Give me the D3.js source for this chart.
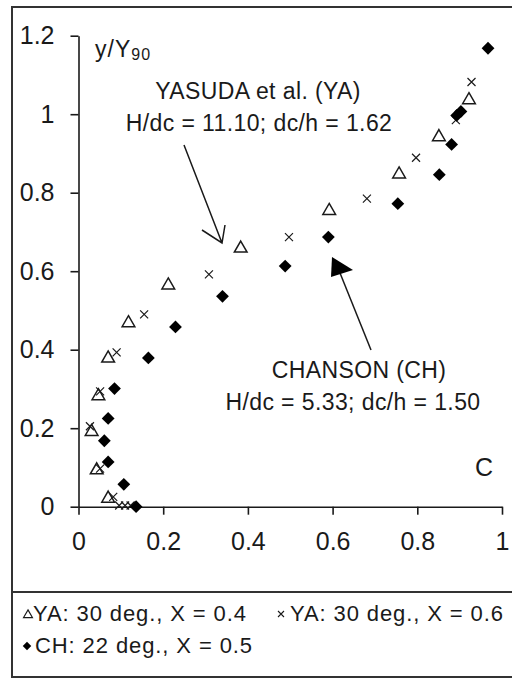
<!DOCTYPE html>
<html><head><meta charset="utf-8">
<script src="https://cdn.jsdelivr.net/npm/d3@7"></script>
<style>
html,body{margin:0;padding:0;background:#fff;}
svg{display:block;font-family:"Liberation Sans",Arial,sans-serif;}
</style></head><body>
<svg id="chart" width="512" height="680"></svg>
<script>
// Velocity distribution y/Y90 : YA (X = 0.4, X = 0.6) and CH (X = 0.5)
const yaX04_x = [0.070,0.043,0.031,0.047,0.070,0.118,0.212,0.383,0.592,0.757,0.851,0.922];
const yaX04_y = [0.021,0.093,0.191,0.282,0.378,0.468,0.564,0.658,0.754,0.847,0.942,1.036];

const yaX06_x = [0.123,0.110,0.096,0.082,0.051,0.027,0.051,0.090,0.155,0.308,0.497,0.681,0.797,0.891,0.928];
const yaX06_y = [0.003,0.003,0.003,0.025,0.097,0.205,0.294,0.393,0.490,0.592,0.687,0.785,0.889,0.985,1.082];

const ch_x = [0.136,0.107,0.070,0.061,0.070,0.085,0.165,0.229,0.340,0.488,0.590,0.754,0.852,0.881,0.893,0.903,0.967];
const ch_y = [0.000,0.057,0.114,0.168,0.225,0.301,0.379,0.458,0.536,0.613,0.687,0.772,0.846,0.923,0.997,1.007,1.168];

const xTicks = [0,0.2,0.4,0.6,0.8,1];
const yTicks = [0,0.2,0.4,0.6,0.8,1,1.2];
const legendLabels = ["YA: 30 deg., X = 0.4","YA: 30 deg., X = 0.6","CH: 22 deg., X = 0.5"];

const svg = d3.select("#chart");
const ink = "#1a1a1a";

const x = d3.scaleLinear().domain([0,1]).range([78.5,502]);
const y = d3.scaleLinear().domain([0,1.2]).range([506.7,35.7]);

// outer frame and legend divider
svg.append("rect").attr("x",12).attr("y",7).attr("width",520).attr("height",670)
  .attr("fill","none").attr("stroke","#333").attr("stroke-width",2);
svg.append("line").attr("x1",12).attr("x2",520).attr("y1",592).attr("y2",592)
  .attr("stroke","#333").attr("stroke-width",2);

const fmt = d => d === 0 ? "0" : d3.format("~g")(d);

const gx = svg.append("g").attr("transform",`translate(0,${y(0)})`)
  .call(d3.axisBottom(x).tickValues(xTicks).tickSize(8).tickSizeOuter(0).tickPadding(18).tickFormat(fmt));
const gy = svg.append("g").attr("transform",`translate(${x(0)},0)`)
  .call(d3.axisLeft(y).tickValues(yTicks).tickSize(8).tickSizeOuter(0).tickPadding(16).tickFormat(fmt));
[gx,gy].forEach(g=>{
  g.selectAll("path,line").attr("stroke",ink).attr("stroke-width",1.6);
  g.selectAll("text").attr("fill",ink).attr("font-size",25).attr("font-family","Liberation Sans, Arial, sans-serif");
});

// axis title
const t = svg.append("text").attr("x",95).attr("y",57).attr("fill",ink).attr("font-size",23).attr("letter-spacing",1);
t.append("tspan").text("y/Y");
t.append("tspan").attr("font-size",16).attr("dy",3).text("90");

// markers
const triPath = d3.symbol().type(d3.symbolTriangle).size(70)();
const diaPath = d3.symbol().type(d3.symbolSquare).size(82)();
const crossPath = "M-4,-4L4,4M-4,4L4,-4";

function drawSeries(xs, ys, path, style){
  svg.append("g").selectAll("path").data(xs.map((v,i)=>[v,ys[i]])).join("path")
    .attr("d",path)
    .attr("transform",d=>`translate(${x(d[0])},${y(d[1])})${style.rot?" rotate(45)":""}`)
    .attr("fill",style.fill).attr("stroke",style.stroke).attr("stroke-width",style.sw);
}
drawSeries(yaX04_x, yaX04_y, triPath, {fill:"#fff",stroke:ink,sw:1.5});
drawSeries(yaX06_x, yaX06_y, crossPath, {fill:"none",stroke:ink,sw:1.2});
drawSeries(ch_x, ch_y, diaPath, {fill:"#000",stroke:"none",sw:0,rot:true});

// annotations
const ann = svg.append("g").attr("fill",ink).attr("font-size",23).attr("letter-spacing",0.4).attr("text-anchor","middle");
ann.append("text").attr("x",258).attr("y",99).text("YASUDA et al. (YA)");
ann.append("text").attr("x",259).attr("y",131).text("H/dc = 11.10; dc/h = 1.62");
ann.append("text").attr("x",359).attr("y",378).text("CHANSON (CH)");
ann.append("text").attr("x",353).attr("y",410).text("H/dc = 5.33; dc/h = 1.50");
ann.append("text").attr("x",484).attr("y",476).attr("font-size",25).attr("letter-spacing",0).text("C");

// YA arrow (open head)
svg.append("path").attr("d","M184,145L222,243M202,230L222,243L225,225")
  .attr("fill","none").attr("stroke",ink).attr("stroke-width",1.5);
// CH arrow (filled head)
svg.append("line").attr("x1",371).attr("y1",350).attr("x2",338).attr("y2",268)
  .attr("stroke",ink).attr("stroke-width",1.5);
svg.append("path").attr("d","M332,257L353,270L331,277Z").attr("fill","#000");

// legend
const lg = svg.append("g").attr("fill",ink).attr("font-size",22).attr("letter-spacing",0.9);
lg.append("path").attr("d",d3.symbol().type(d3.symbolTriangle).size(34)())
  .attr("transform","translate(28,615)").attr("fill","#fff").attr("stroke",ink).attr("stroke-width",1.2);
lg.append("text").attr("x",33).attr("y",621).text(legendLabels[0]);
lg.append("path").attr("d","M-3,-3L3,3M-3,3L3,-3")
  .attr("transform","translate(281,614)").attr("fill","none").attr("stroke",ink).attr("stroke-width",1.1);
lg.append("text").attr("x",290).attr("y",621).text(legendLabels[1]);
lg.append("path").attr("d",d3.symbol().type(d3.symbolSquare).size(36)())
  .attr("transform","translate(27,646) rotate(45)").attr("fill","#000");
lg.append("text").attr("x",35).attr("y",653).text(legendLabels[2]);
</script>
</body></html>
